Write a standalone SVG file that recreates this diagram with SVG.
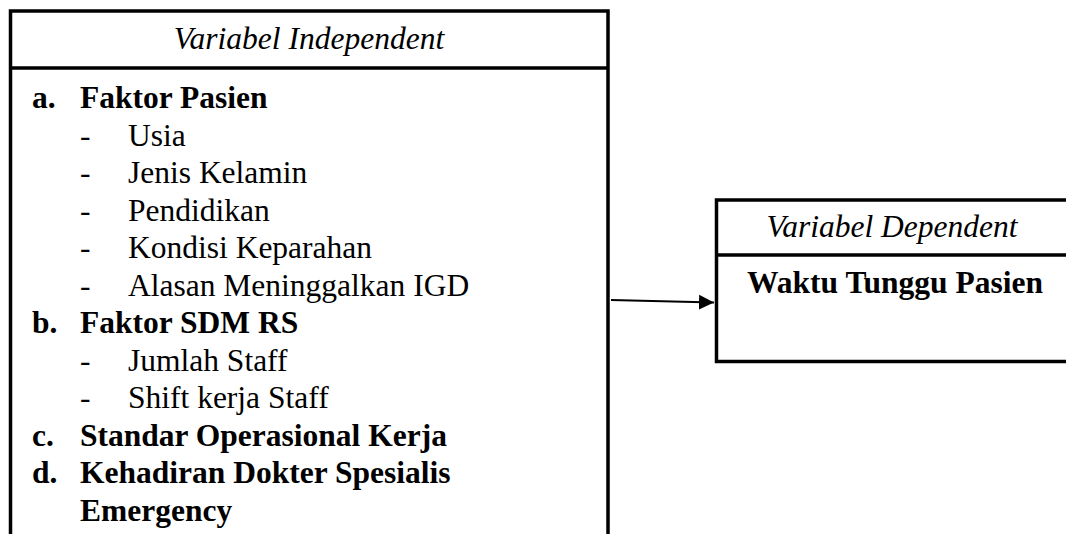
<svg xmlns="http://www.w3.org/2000/svg" width="1066" height="534" viewBox="0 0 1066 534">
<defs>
<style>
.box{fill:#fff;stroke:#000;stroke-width:3.5}
.div{stroke:#000;stroke-width:3.5}
.t{font-family:"Liberation Serif","Times New Roman",serif;font-size:31.5px;fill:#000}
.i{font-style:italic}
.b{font-weight:bold}
.conn{stroke:#000;stroke-width:2;fill:none}
</style>
<marker id="ah" markerUnits="userSpaceOnUse" markerWidth="16" markerHeight="16" viewBox="0 0 16 16" refX="15" refY="8" orient="auto">
<path d="M0,0.5 L15,8 L0,15.5 Z" fill="#000"/>
</marker>
</defs>
<rect width="1066" height="534" fill="#fff"/>
<g id="independent">
<rect class="box" x="10.5" y="11" width="597.5" height="560"/>
<line class="div" x1="10.5" y1="68" x2="608" y2="68"/>
<text class="t i" x="309" y="49" text-anchor="middle">Variabel Independent</text>
<text class="t b" x="32" y="108">a.</text>
<text class="t b" x="80" y="108">Faktor Pasien</text>
<text class="t" x="80" y="145.5">-</text><text class="t" x="128" y="145.5">Usia</text>
<text class="t" x="80" y="183">-</text><text class="t" x="128" y="183">Jenis Kelamin</text>
<text class="t" x="80" y="220.5">-</text><text class="t" x="128" y="220.5">Pendidikan</text>
<text class="t" x="80" y="258">-</text><text class="t" x="128" y="258">Kondisi Keparahan</text>
<text class="t" x="80" y="295.5">-</text><text class="t" x="128" y="295.5">Alasan Meninggalkan IGD</text>
<text class="t b" x="32" y="333">b.</text>
<text class="t b" x="80" y="333">Faktor SDM RS</text>
<text class="t" x="80" y="370.5">-</text><text class="t" x="128" y="370.5">Jumlah Staff</text>
<text class="t" x="80" y="408">-</text><text class="t" x="128" y="408">Shift kerja Staff</text>
<text class="t b" x="32" y="445.5">c.</text>
<text class="t b" x="80" y="445.5">Standar Operasional Kerja</text>
<text class="t b" x="32" y="483">d.</text>
<text class="t b" x="80" y="483">Kehadiran Dokter Spesialis</text>
<text class="t b" x="80" y="520.5">Emergency</text>
</g>
<g id="dependent">
<rect class="box" x="716.5" y="200" width="352" height="161.5"/>
<line class="div" x1="716.5" y1="255" x2="1070" y2="255"/>
<text class="t i" x="892" y="237" text-anchor="middle">Variabel Dependent</text>
<text class="t b" x="895" y="293" text-anchor="middle">Waktu Tunggu Pasien</text>
</g>
<g id="connectors">
<line class="conn" x1="611" y1="300" x2="714" y2="302.5" marker-end="url(#ah)"/>
</g>
</svg>
